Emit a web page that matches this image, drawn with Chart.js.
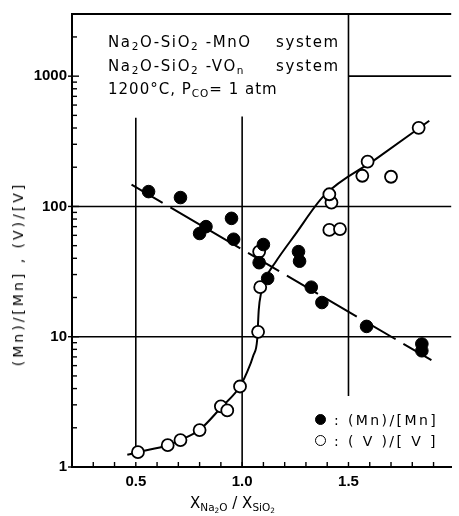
<!DOCTYPE html>
<html>
<head>
<meta charset="utf-8">
<script src="https://cdn.jsdelivr.net/npm/chart.js@4.4.1/dist/chart.umd.min.js"></script>
<style>
  html, body { margin: 0; padding: 0; background: #fff; }
  #wrap { position: relative; width: 459px; height: 516px; overflow: hidden; }
  #c { position: absolute; left: 0; top: 0; }
  .t { position: absolute; font-family: 'DejaVu Sans', sans-serif; color: #000; white-space: nowrap; line-height: 1; }
  .t sub { font-size: 70%; vertical-align: baseline; position: relative; top: 0.3em; }
  .note { font-size: 15px; letter-spacing: 1.6px; }
  .leg { font-size: 14px; letter-spacing: 2.4px; }
  .dot { position: absolute; width: 11px; height: 11px; border-radius: 50%; border: 1.8px solid #000; box-sizing: border-box; }
</style>
</head>
<body>
<div id="wrap">
  <canvas id="c" width="459" height="516"></canvas>

  <div class="t note" style="left:108px; top:35px;">Na<sub>2</sub>O-SiO<sub>2</sub> -MnO</div>
  <div class="t note" style="left:276px; top:35px;">system</div>
  <div class="t note" style="left:108px; top:59px;">Na<sub>2</sub>O-SiO<sub>2</sub> -VO<sub>n</sub></div>
  <div class="t note" style="left:276px; top:59px;">system</div>
  <div class="t note" style="left:108px; top:82px; letter-spacing:1px;">1200°C,  P<sub>CO</sub>= 1 atm</div>

  <div class="dot" style="left:315px; top:414px; background:#000;"></div>
  <div class="t leg" style="left:334px; top:413px;">: (Mn)/[Mn]</div>
  <div class="dot" style="left:315px; top:435px; background:#fff;"></div>
  <div class="t leg" style="left:334px; top:434px;">: ( V )/[ V ]</div>

  <div class="t" style="left:190px; top:496px; font-size:15px;">X<sub>Na<sub>2</sub>O</sub> / X<sub>SiO<sub>2</sub></sub></div>
  <div class="t" style="left:18px; top:274px; font-size:14px; letter-spacing:3px; transform: translate(-50%, -50%) rotate(-90deg);">(Mn)/[Mn] , (V)/[V]</div>
</div>

<script>
// (Mn)/[Mn] measurements, filled circles
const mnX = [0.56, 0.71, 0.80, 0.83, 0.95, 0.96, 1.08, 1.10, 1.12, 1.265, 1.27, 1.325, 1.375, 1.585, 1.845, 1.845];
const mnY = [130, 117, 62, 70, 81, 56, 37, 51, 28, 45, 38, 24, 18.3, 12, 8.8, 7.8];

// (V)/[V] measurements, open circles
const vX = [0.51, 0.65, 0.71, 0.80, 0.90, 0.93, 0.99, 1.075, 1.085, 1.08, 1.41, 1.46, 1.42, 1.41, 1.565, 1.59, 1.70, 1.83];
const vY = [1.30, 1.47, 1.61, 1.92, 2.92, 2.72, 4.15, 10.9, 24, 45, 66, 67, 107, 124, 172, 221, 169, 401];

// dashed fit line through the Mn points
const mnFitX = [0.48, 1.89];
const mnFitY = [147, 6.6];

// hand-drawn curve through the V points
const vCurveX = [0.46, 0.51, 0.65, 0.71, 0.80, 0.90, 0.99, 1.02, 1.053, 1.071, 1.078, 1.09, 1.11, 1.155, 1.25, 1.385, 1.63, 1.88];
const vCurveY = [1.24, 1.30, 1.47, 1.61, 1.93, 2.85, 4.15, 5.2, 7.2, 9.6, 16, 22, 28, 37, 61, 121, 232, 455];

const xTickLabels = [0.5, 1.0, 1.5];
const yTickLabels = [1, 10, 100, 1000];

function pts(xs, ys) {
  return xs.map((x, i) => ({ x: x, y: ys[i] }));
}

// partial grid lines of the original figure, in data units
const gridSegments = [
  { x1: 0.5, y1: 480, x2: 0.5, y2: 1.38 },
  { x1: 1.0, y1: 490, x2: 1.0, y2: 1 },
  { x1: 1.5, y1: 3000, x2: 1.5, y2: 3.5 },
  { x1: 1.5, y1: 1000, x2: 1.983, y2: 1000 },
  { x1: 0.2, y1: 100, x2: 1.983, y2: 100 },
  { x1: 0.2, y1: 10, x2: 1.983, y2: 10 }
];

const framePlugin = {
  id: 'frame',
  beforeDatasetsDraw(chart) {
    const ctx = chart.ctx;
    const xs = chart.scales.x, ys = chart.scales.y;
    const a = chart.chartArea;
    ctx.save();
    ctx.strokeStyle = '#000';
    ctx.lineCap = 'butt';

    ctx.lineWidth = 1.6;
    gridSegments.forEach(s => {
      ctx.beginPath();
      ctx.moveTo(xs.getPixelForValue(s.x1), ys.getPixelForValue(s.y1));
      ctx.lineTo(xs.getPixelForValue(s.x2), ys.getPixelForValue(s.y2));
      ctx.stroke();
    });

    // top border
    ctx.lineWidth = 2;
    ctx.beginPath();
    ctx.moveTo(a.left, a.top);
    ctx.lineTo(a.right, a.top);
    ctx.stroke();

    // inward minor ticks on x
    ctx.lineWidth = 1.4;
    for (let k = 3; k <= 19; k++) {
      const px = xs.getPixelForValue(k / 10);
      ctx.beginPath();
      ctx.moveTo(px, a.bottom);
      ctx.lineTo(px, a.bottom - 5);
      ctx.stroke();
    }
    // inward minor ticks on y (log)
    for (let d = 1; d <= 1000; d *= 10) {
      for (let m = 1; m <= 9; m++) {
        const v = m * d;
        if (v > 3000) break;
        const py = ys.getPixelForValue(v);
        ctx.beginPath();
        ctx.moveTo(a.left - (m === 1 ? 4 : 0), py);
        ctx.lineTo(a.left + (m === 1 ? 7 : 5), py);
        ctx.stroke();
      }
    }
    ctx.restore();
  }
};

new Chart(document.getElementById('c'), {
  type: 'scatter',
  data: {
    datasets: [
      {
        label: '(Mn)/[Mn]',
        data: pts(mnX, mnY),
        pointRadius: 6.3,
        pointBackgroundColor: '#000',
        pointBorderColor: '#000',
        pointBorderWidth: 1,
        showLine: false
      },
      {
        label: '(V)/[V]',
        data: pts(vX, vY),
        pointRadius: 6,
        pointBackgroundColor: '#fff',
        pointBorderColor: '#000',
        pointBorderWidth: 1.8,
        showLine: false
      },
      {
        label: 'Mn fit',
        data: pts(mnFitX, mnFitY),
        showLine: true,
        pointRadius: 0,
        borderColor: '#000',
        borderWidth: 2,
        borderDash: [36, 9]
      },
      {
        label: 'V curve',
        data: pts(vCurveX, vCurveY),
        showLine: true,
        pointRadius: 0,
        borderColor: '#000',
        borderWidth: 2,
        cubicInterpolationMode: 'monotone'
      }
    ]
  },
  options: {
    responsive: false,
    animation: false,
    devicePixelRatio: 1,
    layout: { padding: { top: 13, right: 0, left: 0, bottom: 0 } },
    plugins: {
      legend: { display: false },
      tooltip: { enabled: false }
    },
    scales: {
      x: {
        type: 'linear',
        min: 0.2,
        max: 1.983,
        grid: { display: false, drawTicks: false },
        border: { display: true, color: '#000', width: 2 },
        afterBuildTicks: s => { s.ticks = xTickLabels.map(v => ({ value: v })); },
        afterFit: s => { s.height = 49; },
        ticks: {
          autoSkip: false,
          maxRotation: 0,
          padding: 6,
          color: '#000',
          font: { family: 'Liberation Sans', size: 15, weight: 'bold' },
          callback: v => v.toFixed(1)
        }
      },
      y: {
        type: 'logarithmic',
        min: 1,
        max: 3000,
        grid: { display: false, drawTicks: false },
        border: { display: true, color: '#000', width: 2 },
        afterBuildTicks: s => { s.ticks = yTickLabels.map(v => ({ value: v })); },
        afterFit: s => { s.width = 72; },
        ticks: {
          autoSkip: false,
          padding: 5,
          color: '#000',
          font: { family: 'Liberation Sans', size: 15, weight: 'bold' },
          callback: v => String(v)
        }
      }
    }
  },
  plugins: [framePlugin]
});
</script>
</body>
</html>
